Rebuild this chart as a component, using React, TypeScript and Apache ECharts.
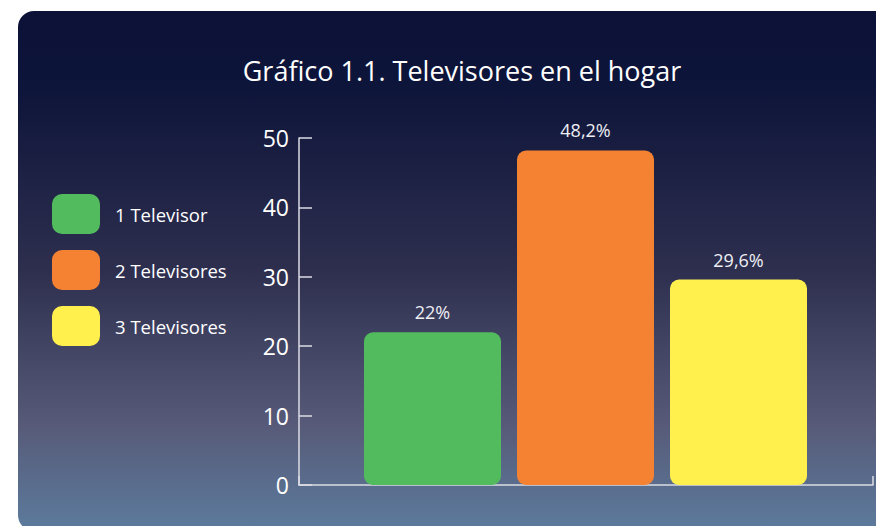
import React, { useEffect, useRef } from "react";
import * as echarts from "echarts";

const categories = ["1 Televisor", "2 Televisores", "3 Televisores"];
const values = [22, 48.2, 29.6];
const valueLabels = ["22%", "48,2%", "29,6%"];
const colors = ["#52bb5d", "#f58132", "#fff04e"];
const yTicks = [0, 10, 20, 30, 40, 50];
const titleText = "Gráfico 1.1. Televisores en el hogar";

const FONT = "'Open Sans', 'Noto Sans', sans-serif";

export default function App() {
  const ref = useRef<HTMLDivElement>(null);
  useEffect(() => {
    document.body.style.margin = "0";
    const chart = echarts.init(ref.current!, null, { renderer: "svg" });
    const axisColor = "#dcdce4";
    const series = categories.map((name, i) => ({
      name,
      type: "bar",
      xAxisIndex: 1,
      yAxisIndex: 1,
      barWidth: 137,
      barGap: "-100%",
      data: categories.map((_, j) => (j === i ? values[i] : "-")),
      itemStyle: { color: colors[i], borderRadius: 9 },
      label: {
        show: true,
        position: "top",
        distance: 11,
        color: "#eeeef4",
        fontSize: 18,
        fontFamily: FONT,
        formatter: () => valueLabels[i],
      },
    }));
    chart.setOption({
      animation: false,
      backgroundColor: "#ffffff",
      graphic: [
        {
          type: "rect",
          z: -10,
          silent: true,
          shape: { x: 18, y: 11, width: 900, height: 520, r: 16 },
          style: {
            fill: new echarts.graphic.LinearGradient(0, 0, 0, 1, [
              { offset: 0, color: "#0b1137" },
              { offset: 0.15, color: "#0e153a" },
              { offset: 0.5, color: "#2e2f4f" },
              { offset: 0.8, color: "#575b79" },
              { offset: 1, color: "#5c7b9d" },
            ]),
          },
        },
        {
          type: "text",
          x: 462,
          y: 70,
          style: {
            text: titleText,
            fill: "#ffffff",
            fontSize: 27,
            fontFamily: FONT,
            textAlign: "center",
            textVerticalAlign: "middle",
          },
        },
      ],
      legend: {
        data: categories,
        orient: "vertical",
        left: 47,
        top: 189,
        itemWidth: 48,
        itemHeight: 40,
        itemGap: 16,
        icon: "roundRect",
        textStyle: {
          color: "#ffffff",
          fontSize: 18.5,
          fontFamily: FONT,
          padding: [0, 0, 0, 10],
        },
      },
      grid: [
        { left: 299, right: 3, top: 138, bottom: 41 },
        { left: 356, right: 61, top: 138, bottom: 41 },
      ],
      xAxis: [
        {
          type: "category",
          gridIndex: 0,
          data: [""],
          axisLine: { show: true, lineStyle: { color: axisColor, width: 1.5 } },
          axisTick: { show: true, inside: true, length: 9, lineStyle: { color: axisColor, width: 1.5 } },
          axisLabel: { show: false },
        },
        {
          type: "category",
          gridIndex: 1,
          data: categories,
          axisLine: { show: false },
          axisTick: { show: false },
          axisLabel: { show: false },
        },
      ],
      yAxis: [
        {
          type: "value",
          gridIndex: 0,
          min: yTicks[0],
          max: yTicks[yTicks.length - 1],
          interval: 10,
          axisLine: { show: true, lineStyle: { color: axisColor, width: 1.5 } },
          axisTick: { show: true, inside: true, length: 13, lineStyle: { color: axisColor, width: 1.5 } },
          axisLabel: { color: "#ffffff", fontSize: 23, fontFamily: FONT, margin: 10 },
          splitLine: { show: false },
        },
        {
          type: "value",
          gridIndex: 1,
          min: yTicks[0],
          max: yTicks[yTicks.length - 1],
          interval: 10,
          show: false,
        },
      ],
      series,
    });
    return () => chart.dispose();
  }, []);
  return <div ref={ref} style={{ width: 876, height: 526 }} />;
}
